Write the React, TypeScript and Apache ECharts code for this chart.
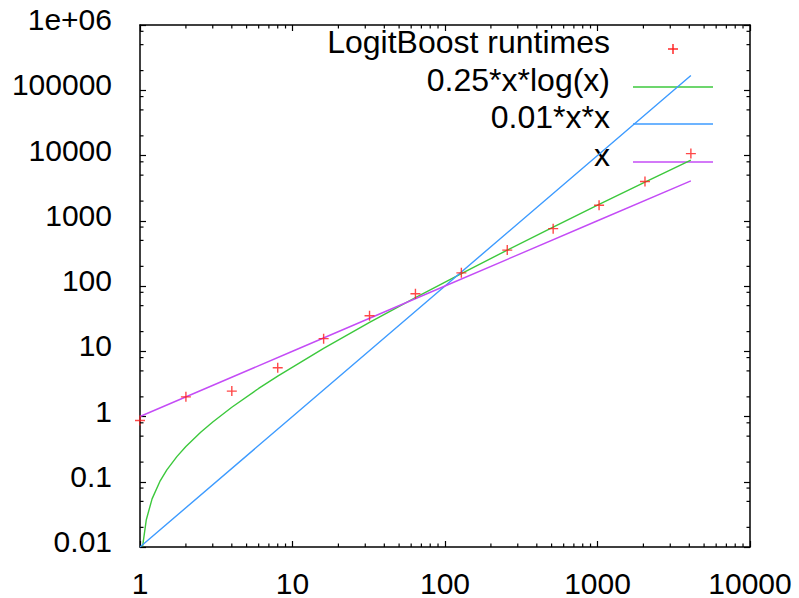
import React, { useEffect, useRef } from "react";
import * as echarts from "echarts";

// ---- data ----
const sampleSizes = [1, 2, 4, 8, 16, 32, 64, 128, 256, 512, 1024, 2048, 4096];
const logitRuntimes = [0.87, 2.0, 2.45, 5.6, 15.6, 35, 76, 159, 355, 757, 1730, 3990, 10700];

const nlognX = [1.04, 1.1, 1.2, 1.35, 1.5, 1.75, 2, 2.5, 3, 4, 6, 8, 16, 32, 64, 128, 256, 512, 1024, 2048, 4096];
const nlognY = [0.0102, 0.0262, 0.0547, 0.101, 0.152, 0.245, 0.347, 0.573, 0.824, 1.386, 2.69, 4.16, 11.1, 27.7, 66.5, 155, 355, 799, 1775, 3904, 8517];

const squareX = [1, 10, 100, 1000, 4096];
const squareY = [0.01, 1, 100, 10000, 167772];

const linearX = [1, 10, 100, 1000, 4096];
const linearY = [1, 10, 100, 1000, 4096];

const legendNames = ["LogitBoost runtimes", "0.25*x*log(x)", "0.01*x*x", "x"];

const xTickLabels = ["1", "10", "100", "1000", "10000"];
const yTickLabels = ["0.01", "0.1", "1", "10", "100", "1000", "10000", "100000", "1e+06"];

const xMinorMultipliers = [2, 3, 4, 5, 6, 7, 8, 9];
const yMinorMultipliers = [2, 5, 8];
const xDecades = [1, 10, 100, 1000];
const yDecades = [0.01, 0.1, 1, 10, 100, 1000, 10000, 100000];

const X_MIN = 1, X_MAX = 10000, Y_MIN = 0.01, Y_MAX = 1e6;

const RED = "#ff1a1a";
const GREEN = "#3cc83c";
const BLUE = "#3d9bff";
const PURPLE = "#c44cf6";

const FONT = '"Liberation Sans", Arial, sans-serif';

export default function App() {
  const ref = useRef<HTMLDivElement>(null);

  useEffect(() => {
    if (!ref.current) return;
    const chart = echarts.init(ref.current, null, { renderer: "svg" });

    const xMinor: number[][] = [];
    xDecades.forEach((d) => xMinorMultipliers.forEach((m) => xMinor.push([d * m, Y_MIN])));
    const yMinor: number[][] = [];
    yDecades.forEach((d) => yMinorMultipliers.forEach((m) => yMinor.push([X_MIN, d * m])));

    const labelIndex = (v: number, base: number) => Math.round(Math.log10(v / base));

    const axisCommon = {
      type: "log" as const,
      logBase: 10,
      axisLine: { show: true, onZero: false, lineStyle: { color: "#000", width: 1.5 } },
      axisTick: { show: true, inside: true, length: 6, lineStyle: { color: "#000", width: 1.2 } },
      splitLine: { show: false },
      minorTick: { show: false },
    };

    const tickLine = (x1: number, y1: number, x2: number, y2: number) => ({
      type: "line",
      shape: { x1, y1, x2, y2 },
      style: { stroke: "#000", lineWidth: 1.2 },
    });

    const seriesData = (xs: number[], ys: number[]) => xs.map((x, i) => [x, ys[i]]);

    const legendTop = [42, 80, 117, 155];
    const legendTextRight = 610;
    const sampleX1 = 633, sampleX2 = 713;
    const sampleOffset = 7;

    const graphics: any[] = [];
    legendNames.forEach((name, i) => {
      graphics.push({
        type: "text",
        x: legendTextRight,
        y: legendTop[i],
        style: {
          text: name,
          align: "right",
          verticalAlign: "middle",
          fontSize: 32,
          fontFamily: FONT,
          fill: "#000",
        },
      });
    });
    const lineColors = [GREEN, BLUE, PURPLE];
    lineColors.forEach((c, i) => {
      const y = legendTop[i + 1] + sampleOffset;
      graphics.push({
        type: "line",
        shape: { x1: sampleX1, y1: y, x2: sampleX2, y2: y },
        style: { stroke: c, lineWidth: 1.5 },
      });
    });
    const px = (sampleX1 + sampleX2) / 2, py = legendTop[0] + sampleOffset;
    graphics.push({ type: "line", shape: { x1: px - 5, y1: py, x2: px + 5, y2: py }, style: { stroke: RED, lineWidth: 1.4 } });
    graphics.push({ type: "line", shape: { x1: px, y1: py - 5, x2: px, y2: py + 5 }, style: { stroke: RED, lineWidth: 1.4 } });

    chart.setOption({
      animation: false,
      backgroundColor: "#fff",
      grid: { left: 140, right: 49, top: 25, bottom: 45, containLabel: false },
      xAxis: [
        {
          ...axisCommon,
          position: "bottom",
          min: X_MIN,
          max: X_MAX,
          splitNumber: 4,
          axisLabel: {
            show: true,
            margin: 21,
            fontSize: 30,
            fontFamily: FONT,
            color: "#000",
            formatter: (v: number) => xTickLabels[labelIndex(v, X_MIN)] ?? "",
          },
        },
        {
          ...axisCommon,
          position: "top",
          min: X_MIN,
          max: X_MAX,
          splitNumber: 4,
          axisLabel: { show: false },
        },
      ],
      yAxis: [
        {
          ...axisCommon,
          position: "left",
          min: Y_MIN,
          max: Y_MAX,
          splitNumber: 8,
          axisLabel: {
            show: true,
            margin: 28,
            fontSize: 30,
            fontFamily: FONT,
            color: "#000",
            verticalAlign: "bottom",
            lineHeight: 11,
            formatter: (v: number) => yTickLabels[labelIndex(v, Y_MIN)] ?? "",
          },
        },
        {
          ...axisCommon,
          position: "right",
          min: Y_MIN,
          max: Y_MAX,
          splitNumber: 8,
          axisLabel: { show: false },
        },
      ],
      series: [
        {
          name: legendNames[1],
          type: "line",
          data: seriesData(nlognX, nlognY),
          showSymbol: false,
          symbol: "none",
          lineStyle: { color: GREEN, width: 1.4 },
          z: 3,
        },
        {
          name: legendNames[2],
          type: "line",
          data: seriesData(squareX, squareY),
          showSymbol: false,
          symbol: "none",
          lineStyle: { color: BLUE, width: 1.4 },
          z: 3,
        },
        {
          name: legendNames[3],
          type: "line",
          data: seriesData(linearX, linearY),
          showSymbol: false,
          symbol: "none",
          lineStyle: { color: PURPLE, width: 1.4 },
          z: 3,
        },
        {
          name: legendNames[0],
          type: "scatter",
          data: seriesData(sampleSizes, logitRuntimes),
          symbol: "path://M0,5L10,5M5,0L5,10",
          symbolSize: 10,
          itemStyle: { color: "none", borderColor: RED, borderWidth: 1.4 },
          clip: false,
          z: 4,
        },
        {
          name: "xMinorTicks",
          type: "custom",
          silent: true,
          clip: false,
          data: xMinor,
          renderItem: (_p: any, api: any) => {
            const v = api.value(0);
            const b = api.coord([v, Y_MIN]);
            const t = api.coord([v, Y_MAX]);
            return {
              type: "group",
              children: [tickLine(b[0], b[1], b[0], b[1] - 3.5), tickLine(t[0], t[1], t[0], t[1] + 3.5)],
            };
          },
          z: 5,
        },
        {
          name: "yMinorTicks",
          type: "custom",
          silent: true,
          clip: false,
          data: yMinor,
          renderItem: (_p: any, api: any) => {
            const v = api.value(1);
            const l = api.coord([X_MIN, v]);
            const r = api.coord([X_MAX, v]);
            return {
              type: "group",
              children: [tickLine(l[0], l[1], l[0] + 3.5, l[1]), tickLine(r[0], r[1], r[0] - 3.5, r[1])],
            };
          },
          z: 5,
        },
      ],
      graphic: graphics,
    });

    return () => chart.dispose();
  }, []);

  return (
    <div
      ref={ref}
      style={{ position: "fixed", left: 0, top: 0, width: 799, height: 598, background: "#fff" }}
    />
  );
}
